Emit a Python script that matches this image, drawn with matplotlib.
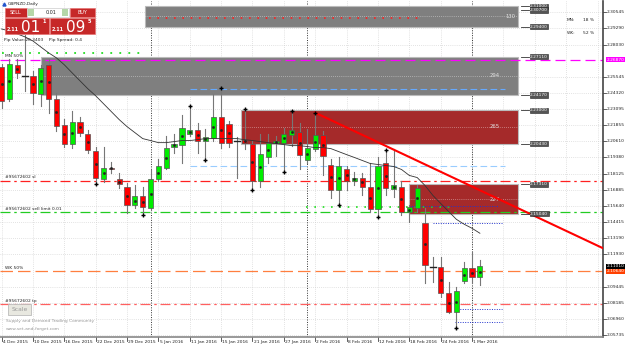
import matplotlib
matplotlib.use('Agg')
import matplotlib.pyplot as plt
from matplotlib.patches import Rectangle
import numpy as np

# daily bars, 4 Dec 2015 .. 2 Mar 2016
opens = [2.2633, 2.2388, 2.2649, 2.2566, 2.2564, 2.2427, 2.2649, 2.2388, 2.2189, 2.2044,
         2.2212, 2.2120, 2.1990, 2.1768, 2.1860, 2.1768, 2.1707, 2.1569, 2.1638, 2.1546,
         2.1768, 2.1860, 2.2021, 2.2036, 2.2120, 2.2151, 2.2067, 2.2090, 2.2250, 2.2197,
         2.2069, 2.2074, 2.2044, 2.1760, 2.1944, 2.2051, 2.2051, 2.2113, 2.2136, 2.1914,
         2.2005, 2.2113, 2.1883, 2.1684, 2.1845, 2.1760, 2.1783, 2.1707, 2.1538, 2.1898,
         2.1692, 2.1714, 2.1515, 2.1546, 2.1431, 2.1096, 2.1094, 2.0895, 2.0750, 2.0987,
         2.1087, 2.1018]
highs = [2.2656, 2.2695, 2.2695, 2.2878, 2.2603, 2.2649, 2.2695, 2.2434, 2.2235, 2.2296,
         2.2250, 2.2151, 2.2021, 2.2021, 2.1906, 2.1814, 2.1738, 2.1722, 2.1707, 2.1837,
         2.1929, 2.2105, 2.2120, 2.2266, 2.2335, 2.2205, 2.2159, 2.2427, 2.2472, 2.2220,
         2.2097, 2.2312, 2.2067, 2.2120, 2.2120, 2.2105, 2.2166, 2.2296, 2.2205, 2.2159,
         2.2281, 2.2143, 2.1929, 2.1944, 2.1875, 2.1822, 2.1814, 2.1891, 2.1944, 2.1998,
         2.2005, 2.1760, 2.1569, 2.1722, 2.1546, 2.1171, 2.1171, 2.0979, 2.0941, 2.1133,
         2.1209, 2.1148]
lows = [2.2319, 2.2373, 2.2549, 2.2450, 2.2350, 2.2335, 2.2281, 2.2143, 2.2021, 2.2013,
        2.2105, 2.1975, 2.1730, 2.1745, 2.1814, 2.1699, 2.1508, 2.1546, 2.1492, 2.1531,
        2.1760, 2.1852, 2.1975, 2.1891, 2.2105, 2.1975, 2.1921, 2.2067, 2.2013, 2.2021,
        2.1776, 2.2005, 2.1684, 2.1707, 2.1891, 2.1952, 2.1822, 2.2028, 2.1852, 2.1891,
        2.1990, 2.1799, 2.1623, 2.1569, 2.1684, 2.1722, 2.1646, 2.1515, 2.1477, 2.1646,
        2.1630, 2.1492, 2.1439, 2.1515, 2.0972, 2.0979, 2.0865, 2.0742, 2.0627, 2.0972,
        2.0972, 2.0956]
closes = [2.2373, 2.2656, 2.2587, 2.2562, 2.2434, 2.2626, 2.2388, 2.2182, 2.2044, 2.2212,
          2.2128, 2.1998, 2.1783, 2.1860, 2.1845, 2.1730, 2.1569, 2.1638, 2.1554, 2.1768,
          2.1868, 2.2013, 2.2044, 2.2166, 2.2151, 2.2067, 2.2097, 2.2250, 2.2051, 2.2051,
          2.2066, 2.2051, 2.1760, 2.1967, 2.2051, 2.2067, 2.2120, 2.2151, 2.1959, 2.2013,
          2.2113, 2.1952, 2.1684, 2.1875, 2.1760, 2.1783, 2.1707, 2.1538, 2.1868, 2.1699,
          2.1722, 2.1515, 2.1554, 2.1699, 2.1110, 2.1092, 2.0895, 2.0750, 2.0910, 2.1087,
          2.1018, 2.1101]
ma = [2.2924, 2.2909, 2.2886, 2.2863, 2.2832, 2.2786, 2.2741, 2.2702, 2.2649, 2.2587,
      2.2526, 2.2465, 2.2411, 2.2350, 2.2289, 2.2228, 2.2174, 2.2128, 2.2082, 2.2067,
      2.2051, 2.2051, 2.2059, 2.2067, 2.2067, 2.2074, 2.2082, 2.2082, 2.2082, 2.2082,
      2.2082, 2.2074, 2.2067, 2.2059, 2.2051, 2.2044, 2.2036, 2.2028, 2.2028, 2.2021,
      2.2013, 2.2013, 2.2005, 2.1982, 2.1959, 2.1937, 2.1914, 2.1891, 2.1883, 2.1875,
      2.1868, 2.1845, 2.1799, 2.1783, 2.1722, 2.1646, 2.1584, 2.1523, 2.1462, 2.1424,
      2.1393, 2.1355]

date_labels = ['4 Dec 2015', '10 Dec 2015', '16 Dec 2015', '22 Dec 2015', '29 Dec 2015',
               '5 Jan 2016', '11 Jan 2016', '15 Jan 2016', '21 Jan 2016', '27 Jan 2016',
               '2 Feb 2016', '8 Feb 2016', '12 Feb 2016', '18 Feb 2016', '24 Feb 2016',
               '1 Mar 2016']
month_starts = [19, 39, 60]
price_ticks = ['2.30545', '2.29290', '2.28030', '2.25545', '2.24320', '2.23095', '2.21855',
               '2.20610', '2.19380', '2.18125', '2.16885', '2.15640', '2.14415', '2.13190',
               '2.11930', '2.09445', '2.08185', '2.06960', '2.05735']

# supply / demand zones
zone_start = [18.3, 5, 30.5, 52]
zone_top = [2.3100, 2.2711, 2.2300, 2.1731]
zone_bottom = [2.2940, 2.2417, 2.2043, 2.1504]
zone_color = ['#7f7f7f', '#7f7f7f', '#a52a2a', '#a52a2a']
zone_score = ['130', '294', '265', '227']
zone_end = 65.9

# horizontal levels
lvl_price = [2.2687, 2.1760, 2.1515, 2.1064, 2.0811]
lvl_color = ['#ff00ff', '#ff2020', '#22cc22', '#ff7f3f', '#ff6060']
lvl_style = [(0, (8, 4)), (0, (8, 3, 2, 3)), (0, (8, 3, 2, 3)), (0, (10, 4)), (0, (8, 3, 2, 3))]
lvl_text = ['MN 50%', '#95672602 sl', '#95672602 sell limit 0.01', 'WK 50%', '#95672602 tp']

trend_x = [40, 70]
trend_y = [2.2281, 2.1430]

trade_x = [12, 18, 24, 26, 28, 31, 32, 36, 37, 40, 43, 48, 49, 58]
trade_y = [2.1730, 2.1492, 2.2335, 2.1921, 2.2472, 2.2312, 2.1684, 2.1822, 2.2296, 2.2281,
           2.1569, 2.1477, 2.1998, 2.0627]

bid = 2.1101

W, H = 625, 347
fig = plt.figure(figsize=(W / 100, H / 100), dpi=100)
ax = fig.add_axes([0, 10 / H, 603 / W, 336 / H])
ax.set_xlim(-0.2, 76.7)
ax.set_ylim(2.0558, 2.3139)
ax.set_facecolor('white')

n = len(opens)
xs = np.arange(n)
fs = 3.2

# grid
for i in range(0, 77, 4):
    ax.axvline(i, color='#c8c8c8', lw=0.5, ls=(0, (1, 2)), zorder=0)
for t in price_ticks:
    ax.axhline(float(t), color='#c8c8c8', lw=0.5, ls=(0, (1, 2)), zorder=0)
for m in month_starts:
    ax.axvline(m, color='#333333', lw=0.7, ls=(0, (1, 1.5)), zorder=1)

# zones
for k, (s, top, bot, c, sc) in enumerate(zip(zone_start, zone_top, zone_bottom, zone_color, zone_score)):
    ax.add_patch(Rectangle((s, bot), zone_end - s, top - bot, facecolor=c,
                           edgecolor='#bbbbbb', lw=0.8, zorder=1))
    mid = (top + bot) / 2
    ax.plot([s, zone_end], [mid, mid], color='white', lw=0.5, ls=(0, (1, 2)), alpha=0.7, zorder=1.1)
    lx = zone_end - 1 if k == 0 else zone_end - 3
    ax.text(lx, mid, sc, color='#e0e0e0', fontsize=fs + 0.6, va='center', ha='center', zorder=1.2)

# dotted order lines
ax.plot([0, 18.3], [2.2741, 2.2741], color='#22dd22', lw=1.3, ls=(0, (1, 4)), zorder=2)
ax.plot([18.8, 53.5], [2.3009, 2.3009], color='#ff2020', lw=1.2, ls=(0, (1, 4)), zorder=2)
ax.plot([38.8, 57.8], [2.1554, 2.1554], color='#22dd22', lw=1.2, ls=(0, (1, 4)), zorder=2)
ax.plot([24, 64.2], [2.2465, 2.2465], color='#66aaff', lw=0.8, ls=(0, (6, 3)), zorder=2)
ax.plot([24, 64.2], [2.1868, 2.1868], color='#99ccff', lw=0.8, ls=(0, (6, 3)), zorder=2)
ax.plot([52, 63.5], [2.1561, 2.1561], color='#2233cc', lw=0.7, ls=(0, (1, 1.5)), zorder=2)
ax.plot([55, 63.8], [2.1431, 2.1431], color='#2233cc', lw=0.7, ls=(0, (1, 1.5)), zorder=2)
ax.plot([57.8, 63.8], [2.0773, 2.0773], color='#2233cc', lw=0.7, ls=(0, (1, 1.5)), zorder=2)
ax.plot([57.8, 63.8], [2.0673, 2.0673], color='#2233cc', lw=0.7, ls=(0, (1, 1.5)), zorder=2)

# horizontal levels across the chart
for p, c, st, tx in zip(lvl_price, lvl_color, lvl_style, lvl_text):
    ax.axhline(p, color=c, lw=0.9, ls=st, zorder=2)
    ax.text(0.4, p + 0.0012, tx, fontsize=fs, color='#222222', va='bottom', zorder=5)

# candles
for i in xs:
    o, h, l, c = opens[i], highs[i], lows[i], closes[i]
    up = c >= o
    ax.plot([i, i], [l, h], color='#777777', lw=0.8, zorder=3)
    body = abs(c - o)
    if body < 0.0004:
        ax.plot([i - 0.35, i + 0.35], [c, c], color='#222222', lw=1.0, zorder=4)
    else:
        ax.add_patch(Rectangle((i - 0.33, min(o, c)), 0.66, body,
                               facecolor='#00ee00' if up else '#ff0000',
                               edgecolor='#555555', lw=0.5, zorder=4))
        ax.plot(i, (o + c) / 2, marker='s', ms=0.9, color='#222222', zorder=4.5)

# moving average
ax.plot(xs, ma, color='#333333', lw=0.6, zorder=4.2)

# trend line (ray)
slope = (trend_y[1] - trend_y[0]) / (trend_x[1] - trend_x[0])
ax.plot([trend_x[0], 77], [trend_y[0], trend_y[0] + slope * (77 - trend_x[0])],
        color='#ff0000', lw=1.5, zorder=4.3)

ax.plot(trade_x, trade_y, ls='none', marker='+', ms=3, mew=1, color='black', zorder=5)

# axes
ax.set_xticks([])
ax.set_yticks([])
for s in ['top', 'left']:
    ax.spines[s].set_visible(False)
ax.spines['right'].set_color('#444444')
ax.spines['bottom'].set_color('#888888')
ax.spines['right'].set_linewidth(1.2)
ax.spines['bottom'].set_linewidth(1.2)

tr = ax.get_yaxis_transform()
for t in price_ticks:
    ax.text(1.006, float(t), t, transform=tr, fontsize=fs, va='center', ha='left', color='#222222',
            clip_on=False)
    ax.plot([1.0, 1.005], [float(t), float(t)], transform=tr, color='#444444', lw=0.6, clip_on=False)

# level labels on the price scale
ax.text(1.006, lvl_price[0], '2.26870', transform=tr, fontsize=fs, va='center', ha='left',
        color='white', clip_on=False, bbox=dict(boxstyle='square,pad=0.12', fc='#ff00ff', ec='none'))
ax.text(1.006, bid, '2.11010', transform=tr, fontsize=fs, va='center', ha='left',
        color='white', clip_on=False, bbox=dict(boxstyle='square,pad=0.12', fc='black', ec='none'))
ax.text(1.006, lvl_price[3], '2.10640', transform=tr, fontsize=fs, va='center', ha='left',
        color='white', clip_on=False, bbox=dict(boxstyle='square,pad=0.12', fc='#ff4000', ec='none'))

# zone price tags
tag_prices = [2.3100, 2.3070, 2.2940, 2.2711, 2.2417, 2.2300, 2.2043, 2.1731, 2.1504]
for p in tag_prices:
    ax.plot([zone_end + 0.3, zone_end + 1.3], [p, p], color='#333333', lw=0.6, zorder=6)
    ax.text(zone_end + 1.5, p, '%.5f' % p, fontsize=fs, va='center', ha='left', color='white',
            zorder=6, bbox=dict(boxstyle='square,pad=0.12', fc='#555555', ec='#222222', lw=0.4))

# date axis
xtr = ax.get_xaxis_transform()
for k, lab in enumerate(date_labels):
    ax.plot([4 * k, 4 * k], [0, -0.012], transform=xtr, color='#444444', lw=0.6, clip_on=False)
    ax.text(4 * k + 0.15, -0.01, lab, transform=xtr, fontsize=fs, va='top', ha='left',
            color='#222222', clip_on=False)

# ui overlay in pixel coords
ui = fig.add_axes([0, 0, 1, 1], facecolor='none')
ui.set_xlim(0, W)
ui.set_ylim(H, 0)
ui.axis('off')

ui.text(8, 4, 'GBPNZD,Daily', fontsize=fs, va='center', color='#222222')
ui.plot(3.5, 4, marker='^', ms=2.2, color='#2255cc')
red = '#c62828'
ui.add_patch(Rectangle((5, 8), 22, 9, fc=red, ec='#e57373', lw=0.5))
ui.text(16, 12.5, 'SELL', fontsize=fs + 0.3, color='white', ha='center', va='center')
ui.add_patch(Rectangle((27, 8), 42, 9, fc='white', ec='#cccccc', lw=0.5))
ui.add_patch(Rectangle((28, 9), 6, 7, fc='#b5d7a8', ec='none'))
ui.add_patch(Rectangle((62, 9), 6, 7, fc='#b5d7a8', ec='none'))
ui.text(57, 12.5, '0.01', fontsize=fs + 0.3, color='#222222', ha='right', va='center')
ui.add_patch(Rectangle((70, 8), 25, 9, fc=red, ec='#e57373', lw=0.5))
ui.text(82.5, 12.5, 'BUY', fontsize=fs + 0.3, color='white', ha='center', va='center')
ui.add_patch(Rectangle((5, 18), 44, 16, fc=red, ec='#e57373', lw=0.5))
ui.add_patch(Rectangle((50, 18), 45, 16, fc=red, ec='#e57373', lw=0.5))
ui.text(7, 31, '2.11', fontsize=fs + 0.3, color='white', fontweight='bold')
ui.text(21, 32, '01', fontsize=11, color='white')
ui.text(42, 23, '1', fontsize=3.6, color='white', fontweight='bold')
ui.text(52, 31, '2.11', fontsize=fs + 0.3, color='white', fontweight='bold')
ui.text(66, 32, '09', fontsize=11, color='white')
ui.text(88, 23, '5', fontsize=3.6, color='white', fontweight='bold')
ui.text(4, 39.5, 'Pip Value:26.3403', fontsize=fs, color='#222222', va='center')
ui.text(49, 39.5, 'Pip Spread: 0.4', fontsize=fs, color='#222222', va='center')

ui.text(567, 20, 'MN:', fontsize=fs, color='#222222', va='center')
ui.text(594, 20, '18 %', fontsize=fs, color='#222222', va='center', ha='right')
ui.text(567, 33, 'WK:', fontsize=fs, color='#222222', va='center')
ui.text(594, 33, '52 %', fontsize=fs, color='#222222', va='center', ha='right')

ui.add_patch(Rectangle((8, 304), 23, 11, fc='#e8e8e0', ec='#bbbbbb', lw=0.6))
ui.text(19.5, 309.5, 'Scale', fontsize=4.3, color='#999999', ha='center', va='center')
ui.text(6, 321, 'Supply and Demand Trading Community', fontsize=fs, color='#999999', va='center')
ui.text(6, 329, 'www.set-and-forget.com', fontsize=fs, color='#999999', va='center')

fig.savefig('out.png', dpi=100)
